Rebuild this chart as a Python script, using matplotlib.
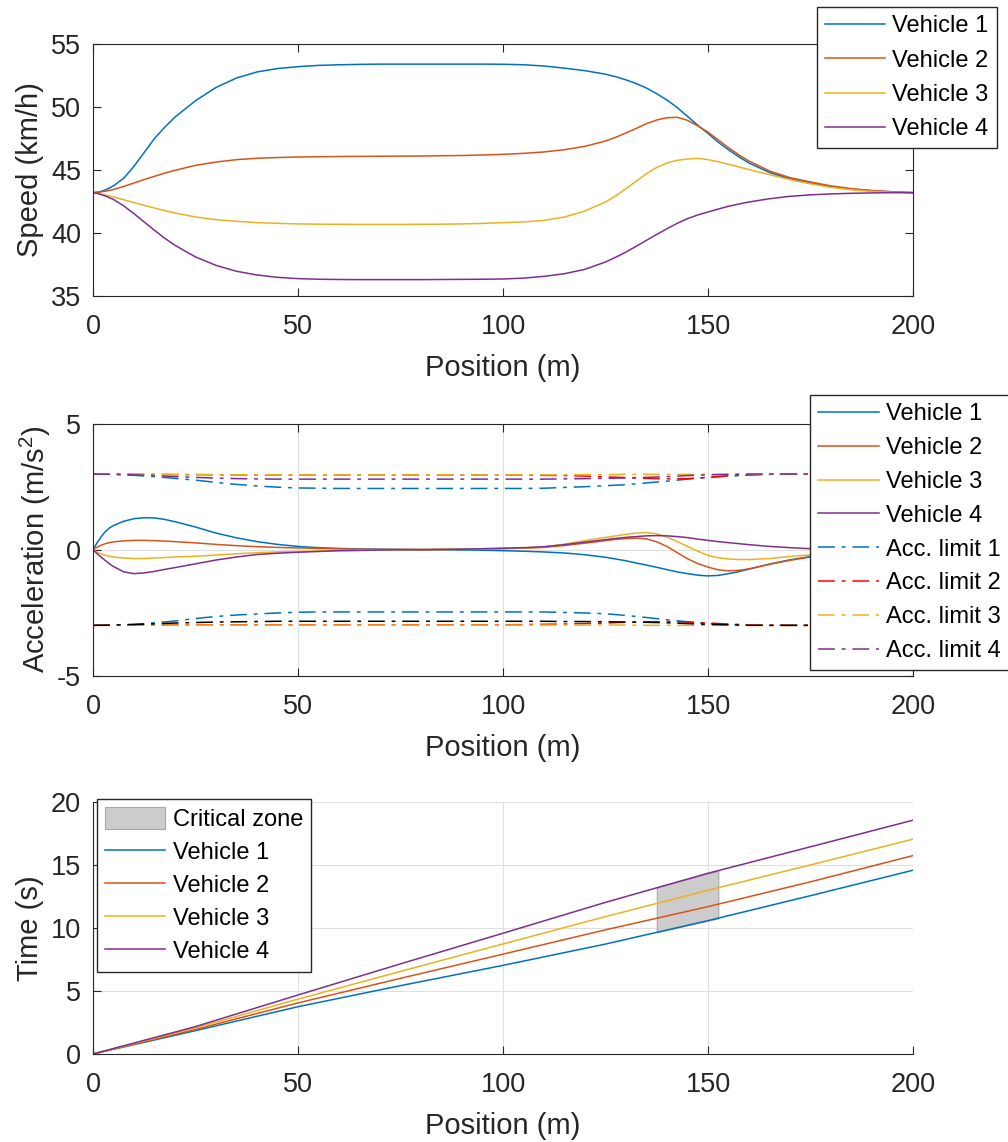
import numpy as np
import matplotlib
matplotlib.use('Agg')
import matplotlib.pyplot as plt
from matplotlib.patches import Patch

plt.rcParams['font.family'] = ['Liberation Sans', 'DejaVu Sans']
plt.rcParams['axes.unicode_minus'] = False
plt.rcParams['mathtext.fontset'] = 'custom'
plt.rcParams['mathtext.rm'] = 'Liberation Sans'

# ---- data ----
pos = [0, 1, 2, 3, 4, 5, 7.5, 10, 12.5, 15, 17.5, 20, 25, 30, 35, 40, 45, 50, 55, 60, 65,
       70, 75, 80, 85, 90, 95, 100, 105, 110, 115, 120, 125, 127.5, 130, 132.5, 135, 137.5,
       140, 142.5, 145, 147.5, 150, 152.5, 155, 157.5, 160, 165, 170, 175, 180, 185, 190, 195, 200]

speed1 = [43.2, 43.23, 43.3, 43.42, 43.57, 43.75, 44.35, 45.3, 46.4, 47.5, 48.4, 49.2, 50.5, 51.55,
          52.3, 52.78, 53.05, 53.2, 53.3, 53.35, 53.38, 53.4, 53.4, 53.4, 53.4, 53.4, 53.4, 53.39,
          53.35, 53.25, 53.08, 52.88, 52.6, 52.4, 52.15, 51.85, 51.5, 51.05, 50.55, 49.95, 49.25,
          48.55, 47.9, 47.2, 46.6, 46.05, 45.55, 44.8, 44.3, 43.97, 43.68, 43.48, 43.35, 43.26, 43.2]
speed2 = [43.2, 43.23, 43.27, 43.32, 43.38, 43.45, 43.7, 43.97, 44.25, 44.5, 44.75, 44.97, 45.37,
          45.63, 45.82, 45.93, 45.99, 46.03, 46.05, 46.07, 46.08, 46.09, 46.1, 46.11, 46.13, 46.15,
          46.19, 46.24, 46.32, 46.43, 46.61, 46.88, 47.3, 47.6, 47.94, 48.3, 48.68, 48.97, 49.15,
          49.18, 48.94, 48.5, 48.0, 47.38, 46.77, 46.2, 45.71, 44.92, 44.39, 44.05, 43.74, 43.52,
          43.37, 43.27, 43.2]
speed3 = [43.2, 43.14, 43.08, 43.01, 42.94, 42.86, 42.64, 42.41, 42.19, 41.98, 41.78, 41.59, 41.27,
          41.06, 40.93, 40.82, 40.77, 40.72, 40.7, 40.69, 40.68, 40.68, 40.68, 40.69, 40.7, 40.72,
          40.76, 40.82, 40.88, 41.0, 41.27, 41.75, 42.46, 42.95, 43.52, 44.12, 44.71, 45.2, 45.56,
          45.77, 45.87, 45.92, 45.82, 45.65, 45.45, 45.24, 45.03, 44.63, 44.23, 43.9, 43.62, 43.43,
          43.3, 43.23, 43.2]
speed4 = [43.2, 43.15, 43.05, 42.93, 42.8, 42.66, 42.15, 41.53, 40.87, 40.21, 39.58, 39.02, 38.1,
          37.43, 36.96, 36.67, 36.48, 36.38, 36.33, 36.31, 36.3, 36.3, 36.3, 36.3, 36.31, 36.32,
          36.33, 36.35, 36.42, 36.56, 36.77, 37.12, 37.7, 38.08, 38.49, 38.95, 39.42, 39.89, 40.34,
          40.77, 41.14, 41.43, 41.67, 41.9, 42.12, 42.3, 42.46, 42.72, 42.91, 43.03, 43.1, 43.15,
          43.18, 43.2, 43.2]

acc1 = [0, 0.28, 0.52, 0.72, 0.86, 0.96, 1.13, 1.23, 1.27, 1.26, 1.2, 1.11, 0.9, 0.66, 0.47, 0.32,
        0.21, 0.13, 0.08, 0.05, 0.03, 0.02, 0.01, 0.0, 0.0, -0.01, -0.02, -0.04, -0.06, -0.09,
        -0.13, -0.2, -0.3, -0.37, -0.44, -0.53, -0.61, -0.7, -0.79, -0.88, -0.95, -1.01, -1.04,
        -1.02, -0.95, -0.87, -0.77, -0.57, -0.4, -0.27, -0.17, -0.1, -0.05, -0.02, 0]
acc2 = [0, 0.1, 0.18, 0.24, 0.28, 0.31, 0.35, 0.37, 0.37, 0.36, 0.34, 0.32, 0.27, 0.21, 0.16, 0.12,
        0.09, 0.07, 0.05, 0.03, 0.02, 0.01, 0.01, 0.01, 0.01, 0.02, 0.03, 0.04, 0.06, 0.09, 0.17,
        0.26, 0.36, 0.41, 0.44, 0.46, 0.43, 0.31, 0.13, -0.12, -0.36, -0.55, -0.69, -0.8, -0.84,
        -0.82, -0.76, -0.58, -0.42, -0.29, -0.19, -0.11, -0.06, -0.02, 0]
acc3 = [0, -0.1, -0.17, -0.22, -0.26, -0.29, -0.33, -0.35, -0.35, -0.33, -0.31, -0.29, -0.26, -0.21,
        -0.16, -0.12, -0.09, -0.07, -0.05, -0.03, -0.02, -0.01, 0, 0, 0.01, 0.02, 0.03, 0.05, 0.07,
        0.11, 0.22, 0.36, 0.49, 0.55, 0.61, 0.66, 0.68, 0.63, 0.5, 0.32, 0.13, -0.06, -0.23, -0.32,
        -0.37, -0.39, -0.39, -0.35, -0.27, -0.2, -0.14, -0.09, -0.05, -0.02, 0]
acc4 = [0, -0.16, -0.3, -0.43, -0.56, -0.67, -0.88, -0.95, -0.92, -0.86, -0.78, -0.71, -0.56, -0.41,
        -0.29, -0.19, -0.14, -0.1, -0.07, -0.04, -0.03, -0.01, 0, 0, 0.01, 0.02, 0.04, 0.06, 0.08,
        0.12, 0.2, 0.3, 0.4, 0.45, 0.49, 0.52, 0.55, 0.56, 0.55, 0.52, 0.48, 0.42, 0.37, 0.32, 0.28,
        0.24, 0.2, 0.13, 0.08, 0.04, 0.02, 0.01, 0, 0, 0]

pos5 = list(range(0, 201, 5))
lim1_up = [3.0, 2.99, 2.95, 2.9, 2.83, 2.76, 2.67, 2.59, 2.53, 2.48, 2.45, 2.44, 2.43, 2.43, 2.43,
           2.43, 2.43, 2.43, 2.43, 2.43, 2.43, 2.43, 2.44, 2.47, 2.5, 2.54, 2.58, 2.65, 2.72, 2.8,
           2.87, 2.92, 2.96, 2.99, 3.0, 3.0, 3.0, 3.0, 3.0, 3.0, 3.0]
lim2_up = [3.0, 3.0, 2.99, 2.99, 2.98, 2.98, 2.97, 2.97, 2.97, 2.97, 2.97, 2.97, 2.97, 2.97, 2.97,
           2.97, 2.97, 2.97, 2.97, 2.97, 2.97, 2.96, 2.95, 2.94, 2.92, 2.89, 2.86, 2.83, 2.81, 2.82,
           2.87, 2.94, 2.98, 3.0, 3.0, 3.0, 3.0, 3.0, 3.0, 3.0, 3.0]
lim3_up = [3.0, 3.0, 2.99, 2.99, 2.98, 2.98, 2.98, 2.97, 2.97, 2.97, 2.97, 2.97, 2.97, 2.97, 2.97,
           2.97, 2.97, 2.97, 2.97, 2.97, 2.97, 2.97, 2.97, 2.97, 2.98, 2.98, 2.99, 2.99, 2.99, 2.99,
           2.99, 2.99, 3.0, 3.0, 3.0, 3.0, 3.0, 3.0, 3.0, 3.0, 3.0]
lim4_up = [3.0, 2.99, 2.97, 2.94, 2.9, 2.87, 2.84, 2.82, 2.81, 2.8, 2.8, 2.8, 2.8, 2.8, 2.8, 2.8,
           2.8, 2.8, 2.8, 2.8, 2.8, 2.8, 2.8, 2.81, 2.82, 2.83, 2.85, 2.87, 2.9, 2.94, 2.97, 2.99,
           3.0, 3.0, 3.0, 3.0, 3.0, 3.0, 3.0, 3.0, 3.0]
lim1_lo = [-3.0, -2.99, -2.96, -2.9, -2.83, -2.73, -2.65, -2.59, -2.55, -2.51, -2.48, -2.47, -2.47,
           -2.47, -2.47, -2.47, -2.47, -2.47, -2.47, -2.47, -2.47, -2.47, -2.47, -2.49, -2.51,
           -2.54, -2.61, -2.69, -2.78, -2.86, -2.93, -2.97, -2.99, -3.0, -3.0, -3.0, -3.0, -3.0,
           -3.0, -3.0, -3.0]
lim2_lo = [-3.0, -3.0, -2.99, -2.99, -2.98, -2.98, -2.98, -2.98, -2.98, -2.98, -2.98, -2.98, -2.98,
           -2.98, -2.98, -2.98, -2.98, -2.98, -2.98, -2.98, -2.98, -2.97, -2.96, -2.95, -2.93,
           -2.91, -2.88, -2.86, -2.85, -2.87, -2.91, -2.95, -2.98, -3.0, -3.0, -3.0, -3.0, -3.0,
           -3.0, -3.0, -3.0]
lim3_lo = [-3.0, -3.0, -2.99, -2.99, -2.99, -2.99, -2.99, -2.99, -2.99, -2.99, -2.99, -2.99, -2.99,
           -2.99, -2.99, -2.99, -2.99, -2.99, -2.99, -2.99, -2.99, -2.99, -2.99, -2.99, -2.99,
           -2.99, -2.99, -3.0, -3.0, -3.0, -3.0, -3.0, -3.0, -3.0, -3.0, -3.0, -3.0, -3.0, -3.0,
           -3.0, -3.0]
lim4_lo = [-3.0, -2.99, -2.97, -2.94, -2.91, -2.89, -2.87, -2.86, -2.85, -2.84, -2.84, -2.84, -2.84,
           -2.84, -2.84, -2.84, -2.84, -2.84, -2.84, -2.84, -2.84, -2.84, -2.84, -2.85, -2.85,
           -2.86, -2.87, -2.88, -2.9, -2.93, -2.96, -2.98, -3.0, -3.0, -3.0, -3.0, -3.0, -3.0,
           -3.0, -3.0, -3.0]

pos_t = [0, 25, 50, 75, 100, 125, 150, 175, 200]
time1 = [0, 1.85, 3.75, 5.42, 7.03, 8.72, 10.58, 12.56, 14.58]
time2 = [0, 1.95, 4.05, 6.0, 7.92, 9.85, 11.69, 13.66, 15.74]
time3 = [0, 2.07, 4.35, 6.55, 8.73, 10.9, 12.99, 15.0, 17.04]
time4 = [0, 2.17, 4.68, 7.15, 9.58, 12.03, 14.34, 16.44, 18.55]

zone_pos = [137.5, 152.5]
zone_low = [9.66, 10.76]
zone_high = [13.22, 14.54]

labels = ['Vehicle 1', 'Vehicle 2', 'Vehicle 3', 'Vehicle 4']
colors = [(0, 0.447, 0.741), (0.85, 0.325, 0.098), (0.929, 0.694, 0.125), (0.494, 0.184, 0.556)]

# ---- styling helpers ----
axcol = '#262626'
dashdot = (0, (11, 4.5, 2.5, 4.5))
lw = 1.1
tick_fs = 19.5
lab_fs = 21
leg_kw = dict(fontsize=17, frameon=True, fancybox=False, framealpha=1, edgecolor=axcol,
              handlelength=2.55, handletextpad=0.3, borderpad=0.35,
              borderaxespad=0)


def style_axes(ax, box=True):
    for s in ax.spines.values():
        s.set_color(axcol)
        s.set_linewidth(0.8)
    if not box:
        ax.spines['top'].set_visible(False)
        ax.spines['right'].set_visible(False)
    ax.tick_params(direction='in', length=6, width=0.8, colors=axcol, labelsize=tick_fs,
                   top=box, right=box)
    ax.tick_params(axis='x', pad=13)
    ax.tick_params(axis='y', pad=8.5)
    ax.set_xlim(0, 200)
    ax.set_xticks([0, 50, 100, 150, 200])
    ax.set_xlabel('Position (m)', fontsize=lab_fs, color=axcol, labelpad=10)


fig = plt.figure(figsize=(10.08, 11.42), dpi=100)
ax1 = fig.add_axes([0.0923, 0.7408, 0.8135, 0.2207])
ax2 = fig.add_axes([0.0923, 0.4083, 0.8135, 0.2207])
ax3 = fig.add_axes([0.0923, 0.0771, 0.8135, 0.2207])

# speed
for v, c, l in zip([speed1, speed2, speed3, speed4], colors, labels):
    ax1.plot(pos, v, color=c, lw=lw, label=l)
ax1.set_ylim(35, 55)
ax1.set_yticks([35, 40, 45, 50, 55])
ax1.set_ylabel('Speed (km/h)', fontsize=lab_fs, color=axcol, labelpad=5)
style_axes(ax1)
ax1.legend(loc='upper right', bbox_to_anchor=(0.9891, 0.9939), bbox_transform=fig.transFigure,
           labelspacing=0.52, **leg_kw)

# acceleration
ax2.grid(True, color='#dfdfdf', lw=0.8)
ax2.set_axisbelow(True)
for a, c, l in zip([acc1, acc2, acc3, acc4], colors, labels):
    ax2.plot(pos, a, color=c, lw=lw, label=l)
lim_cols = [colors[0], 'r', colors[2], colors[3]]
lo_cols = [colors[0], 'r', colors[2], 'k']
ups = [lim1_up, lim2_up, lim3_up, lim4_up]
los = [lim1_lo, lim2_lo, lim3_lo, lim4_lo]
for i in range(4):
    ax2.plot(pos5, ups[i], color=lim_cols[i], lw=lw, ls=dashdot, label='Acc. limit %d' % (i + 1))
for i in range(4):
    ax2.plot(pos5, los[i], color=lo_cols[i], lw=lw, ls=dashdot)
ax2.set_ylim(-5, 5)
ax2.set_yticks([-5, 0, 5])
ax2.set_ylabel('Acceleration (m/s$^{2}$)', fontsize=lab_fs, color=axcol, labelpad=3)
style_axes(ax2)
ax2.legend(loc='upper left', bbox_to_anchor=(0.8036, 0.6541), bbox_transform=fig.transFigure,
           labelspacing=0.5, **leg_kw)

# time
ax3.grid(True, color='#dfdfdf', lw=0.8)
ax3.set_axisbelow(True)
ax3.fill_between(zone_pos, zone_low, zone_high, facecolor='#cccccc', edgecolor='#a8a8a8',
                 lw=0.8, zorder=1.5)
for t, c, l in zip([time1, time2, time3, time4], colors, labels):
    ax3.plot(pos_t, t, color=c, lw=lw, label=l, zorder=2)
ax3.set_ylim(0, 20)
ax3.set_yticks([0, 5, 10, 15, 20])
ax3.set_ylabel('Time (s)', fontsize=lab_fs, color=axcol, labelpad=5)
style_axes(ax3, box=False)
h, l = ax3.get_legend_handles_labels()
zone_h = Patch(facecolor='#cccccc', edgecolor='#a8a8a8', lw=0.8)
ax3.legend([zone_h] + h, ['Critical zone'] + l, loc='upper left',
           bbox_to_anchor=(0.0962, 0.3003), bbox_transform=fig.transFigure,
           handleheight=1.05, labelspacing=0.38, **leg_kw)

fig.savefig('out.png', dpi=100)
